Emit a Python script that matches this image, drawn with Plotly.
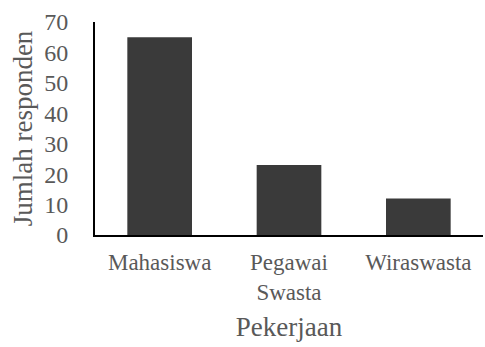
import plotly.graph_objects as go

categories = ["Mahasiswa", "Pegawai<br>Swasta", "Wiraswasta"]
values = [65, 23, 12]
y_ticks = [0, 10, 20, 30, 40, 50, 60, 70]

font_family = "Liberation Serif, DejaVu Serif, serif"
gray = "#595959"

fig = go.Figure(go.Bar(
    x=categories, y=values,
    marker=dict(color="#3a3a3a", line=dict(width=0)),
))

fig.update_layout(
    width=485, height=347,
    margin=dict(l=95, r=2, t=22, b=112),
    paper_bgcolor="white", plot_bgcolor="white",
    bargap=0.5,
    showlegend=False,
    font=dict(family=font_family, color=gray),
    xaxis=dict(
        showline=True, linecolor="black", linewidth=2,
        showgrid=False, ticks="",
        tickfont=dict(size=23, color=gray),
        ticklabelstandoff=5,
        title=dict(text="Pekerjaan", font=dict(size=27, color=gray), standoff=14),
    ),
    yaxis=dict(
        range=[0, 70], tickvals=y_ticks,
        showline=True, linecolor="black", linewidth=2,
        showgrid=False, zeroline=False, ticks="",
        tickfont=dict(size=24, color=gray),
        ticklabelstandoff=20,
        title=dict(text="Jumlah responden", font=dict(size=27, color=gray), standoff=4),
    ),
)

fig.write_html("out.html")
